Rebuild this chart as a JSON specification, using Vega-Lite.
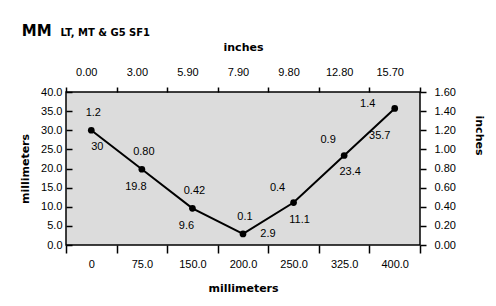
{
  "$schema": "https://vega.github.io/schema/vega-lite/v6.json",
  "autosize": {"type": "pad"},
  "padding": {"left": 18, "top": 24, "right": 5, "bottom": 5},
  "title": {
    "text": "MM",
    "anchor": "start",
    "frame": "bounds",
    "font": "DejaVu Sans",
    "fontSize": 15,
    "fontWeight": "bold",
    "color": "black",
    "dx": 3,
    "offset": -12
  },
  "data": {
    "values": [
      {"mm_label": "0", "in_label": "0.00", "mm": 30, "in": 1.2, "mm_text": "30", "in_text": "1.2"},
      {"mm_label": "75.0", "in_label": "3.00", "mm": 19.8, "in": 0.8, "mm_text": "19.8", "in_text": "0.80"},
      {"mm_label": "150.0", "in_label": "5.90", "mm": 9.6, "in": 0.42, "mm_text": "9.6", "in_text": "0.42"},
      {"mm_label": "200.0", "in_label": "7.90", "mm": 2.9, "in": 0.1, "mm_text": "2.9", "in_text": "0.1"},
      {"mm_label": "250.0", "in_label": "9.80", "mm": 11.1, "in": 0.4, "mm_text": "11.1", "in_text": "0.4"},
      {"mm_label": "325.0", "in_label": "12.80", "mm": 23.4, "in": 0.9, "mm_text": "23.4", "in_text": "0.9"},
      {"mm_label": "400.0", "in_label": "15.70", "mm": 35.7, "in": 1.4, "mm_text": "35.7", "in_text": "1.4"}
    ]
  },
  "config": {
    "view": {"fill": "#dcdcdc", "stroke": "black", "strokeWidth": 1.5},
    "axis": {
      "domain": false,
      "grid": false,
      "tickColor": "black",
      "tickWidth": 1.5,
      "labelFont": "Liberation Sans",
      "labelFontSize": 11,
      "labelColor": "black",
      "titleFont": "DejaVu Sans",
      "titleFontSize": 11,
      "titleFontWeight": "bold",
      "titleColor": "black"
    }
  },
  "vconcat": [
    {
      "width": 354,
      "height": 153,
      "title": {
        "text": "LT, MT & G5 SF1",
        "anchor": "start",
        "frame": "bounds",
        "font": "DejaVu Sans",
        "fontSize": 10,
        "fontWeight": "bold",
        "color": "black",
        "dx": 41,
        "offset": 3
      },
      "layer": [
        {
          "encoding": {
            "x": {
              "field": "mm_label", "type": "ordinal", "bandPosition": 0.5,
              "scale": {"type": "band", "domain": ["0", "75.0", "150.0", "200.0", "250.0", "325.0", "400.0"], "paddingInner": 0, "paddingOuter": 0},
              "axis": {"orient": "bottom", "title": "millimeters", "tickBand": "extent", "tickSize": 8, "labelPadding": 5, "labelAngle": 0, "titlePadding": 13}
            },
            "y": {
              "field": "mm", "type": "quantitative",
              "scale": {"domain": [0, 40], "nice": false},
              "axis": {"orient": "left", "title": "millimeters", "values": [0, 5, 10, 15, 20, 25, 30, 35, 40], "format": ".1f", "tickSize": -6, "labelPadding": 10, "titlePadding": 10}
            }
          },
          "layer": [
            {"mark": {"type": "line", "color": "black", "strokeWidth": 2, "point": {"filled": true, "color": "black", "size": 45, "opacity": 1}}},
            {"transform": [{"filter": {"field": "in_text", "oneOf": ["1.2", "0.80", "0.42", "0.1"]}}],
             "mark": {"type": "text", "font": "Liberation Sans", "fontSize": 11, "color": "black", "dx": 2, "dy": -17},
             "encoding": {"text": {"field": "in_text"}}},
            {"transform": [{"filter": {"field": "in_text", "oneOf": ["0.4", "0.9"]}}],
             "mark": {"type": "text", "font": "Liberation Sans", "fontSize": 11, "color": "black", "dx": -16, "dy": -15},
             "encoding": {"text": {"field": "in_text"}}},
            {"transform": [{"filter": {"field": "in_text", "oneOf": ["1.4"]}}],
             "mark": {"type": "text", "font": "Liberation Sans", "fontSize": 11, "color": "black", "dx": -27, "dy": -4},
             "encoding": {"text": {"field": "in_text"}}},
            {"transform": [{"filter": {"field": "mm_text", "oneOf": ["30", "11.1", "23.4"]}}],
             "mark": {"type": "text", "font": "Liberation Sans", "fontSize": 11, "color": "black", "dx": 6, "dy": 17},
             "encoding": {"text": {"field": "mm_text"}}},
            {"transform": [{"filter": {"field": "mm_text", "oneOf": ["19.8", "9.6"]}}],
             "mark": {"type": "text", "font": "Liberation Sans", "fontSize": 11, "color": "black", "dx": -6, "dy": 18},
             "encoding": {"text": {"field": "mm_text"}}},
            {"transform": [{"filter": {"field": "mm_text", "oneOf": ["2.9"]}}],
             "mark": {"type": "text", "font": "Liberation Sans", "fontSize": 11, "color": "black", "dx": 25, "dy": 0},
             "encoding": {"text": {"field": "mm_text"}}},
            {"transform": [{"filter": {"field": "mm_text", "oneOf": ["35.7"]}}],
             "mark": {"type": "text", "font": "Liberation Sans", "fontSize": 11, "color": "black", "dx": -15, "dy": 28},
             "encoding": {"text": {"field": "mm_text"}}}
          ]
        },
        {
          "mark": {"type": "point", "opacity": 0},
          "encoding": {
            "x": {
              "field": "in_label", "type": "ordinal", "bandPosition": 0.5,
              "scale": {"type": "band", "domain": ["0.00", "3.00", "5.90", "7.90", "9.80", "12.80", "15.70"], "paddingInner": 0, "paddingOuter": 0},
              "axis": {"orient": "top", "title": "inches", "tickBand": "extent", "tickSize": 5, "labelPadding": 10, "labelAngle": 0, "labelOffset": -5, "titlePadding": 14}
            },
            "y": {
              "field": "in", "type": "quantitative",
              "scale": {"domain": [0, 1.6], "nice": false},
              "axis": {"orient": "right", "title": "inches", "values": [0, 0.2, 0.4, 0.6, 0.8, 1, 1.2, 1.4, 1.6], "format": ".2f", "tickSize": 6, "labelPadding": 8, "titlePadding": 18, "titleY": 43}
            }
          }
        }
      ],
      "resolve": {"scale": {"x": "independent", "y": "independent"}}
    }
  ]
}
